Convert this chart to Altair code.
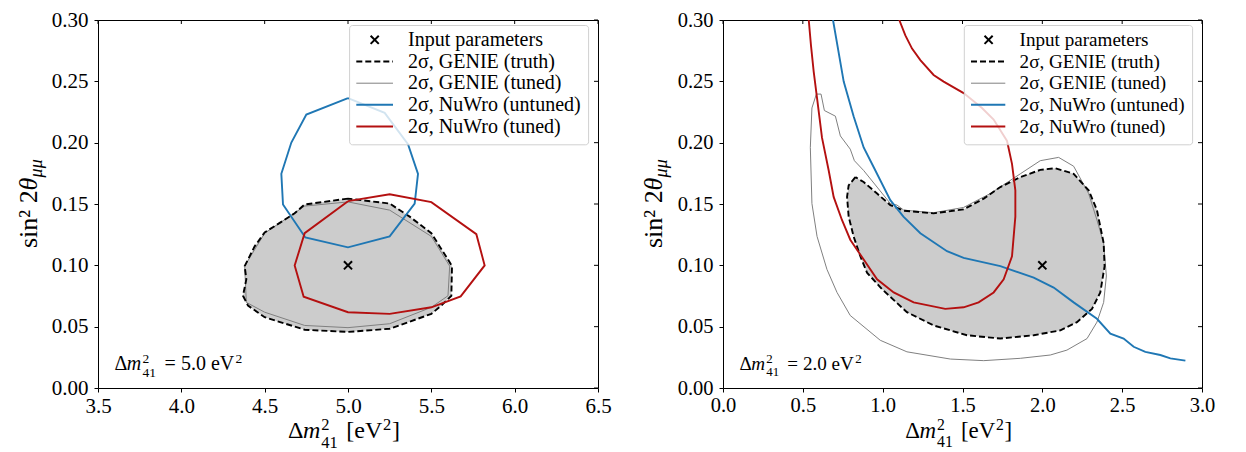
import altair as alt
import pandas as pd

# ---------------- data: left panel (input dm2 = 5.0 eV^2) ----------------
L_truth_x = [5.00, 4.74, 4.68, 4.50, 4.44, 4.38, 4.39, 4.37, 4.40, 4.50, 4.74, 5.00,
             5.25, 5.50, 5.56, 5.62, 5.624, 5.60, 5.50, 5.37, 5.25]
L_truth_y = [0.1544, 0.1496, 0.1424, 0.1268, 0.1155, 0.0994, 0.0886, 0.0752, 0.0672, 0.0577, 0.0475, 0.0457,
             0.0483, 0.0604, 0.0672, 0.0752, 0.0994, 0.1047, 0.1262, 0.1397, 0.1504]
L_tuned_x = [5.00, 4.74, 4.50, 4.38, 4.39, 4.50, 4.74, 5.00, 5.25, 5.50, 5.60, 5.61, 5.50, 5.25]
L_tuned_y = [0.1517, 0.1483, 0.1262, 0.0994, 0.0698, 0.0618, 0.0510, 0.0492, 0.0524, 0.0658, 0.0752,
             0.0994, 0.1236, 0.1450]
L_nu_unt_x = [5.00, 5.22, 5.36, 5.42, 5.40, 5.25, 5.00, 4.744, 4.61, 4.60, 4.66, 4.75]
L_nu_unt_y = [0.2364, 0.2243, 0.1988, 0.1746, 0.1504, 0.1236, 0.1147, 0.1227, 0.1496, 0.1746, 0.2001, 0.2229]
L_nu_tun_x = [5.00, 5.25, 5.50, 5.77, 5.82, 5.676, 5.50, 5.25, 5.00, 4.734, 4.68, 4.74]
L_nu_tun_y = [0.1523, 0.1579, 0.1515, 0.1254, 0.0999, 0.0747, 0.0658, 0.0604, 0.0618, 0.0744, 0.0999, 0.1262]
L_input = (5.0, 0.10)

# ---------------- data: right panel (input dm2 = 2.0 eV^2) ----------------
R_truth_x = [0.829, 0.787, 0.777, 0.787, 0.818, 0.860, 0.902, 0.996, 1.152, 1.319, 1.528, 1.737, 1.946,
             2.113, 2.217, 2.311, 2.363, 2.390, 2.384, 2.342, 2.290, 2.196, 2.081, 1.987, 1.862, 1.737,
             1.633, 1.507, 1.319, 1.132, 1.048, 0.965, 0.881]
R_truth_y = [0.1719, 0.1652, 0.1558, 0.1397, 0.1236, 0.1074, 0.0940, 0.0806, 0.0618, 0.0510, 0.0430, 0.0403,
             0.0430, 0.0470, 0.0537, 0.0645, 0.0779, 0.0994, 0.1182, 0.1450, 0.1612, 0.1746, 0.1792, 0.1778,
             0.1719, 0.1638, 0.1544, 0.1456, 0.1424, 0.1445, 0.1491, 0.1585, 0.1679]
R_tuned_x = [0.585, 0.614, 0.635, 0.704, 0.735, 0.797, 0.823, 0.881, 0.965, 1.048, 1.090, 1.132, 1.319,
             1.507, 1.674, 1.862, 1.987, 2.102, 2.196, 2.290, 2.342, 2.384, 2.401, 2.384, 2.342, 2.280,
             2.154, 2.050, 1.862, 1.633, 1.424, 1.152, 0.985, 0.797, 0.714, 0.651, 0.589, 0.557, 0.547, 0.557]
R_tuned_y = [0.2396, 0.2396, 0.2262, 0.2216, 0.2055, 0.1947, 0.1853, 0.1773, 0.1638, 0.1504, 0.1491, 0.1450,
             0.1429, 0.1472, 0.1585, 0.1746, 0.1853, 0.1880, 0.1808, 0.1585, 0.1370, 0.1182, 0.0913, 0.0698,
             0.0537, 0.0403, 0.0309, 0.0269, 0.0242, 0.0223, 0.0236, 0.0295, 0.0389, 0.0591, 0.0779, 0.0967,
             0.1236, 0.1504, 0.1961, 0.2283]
R_nu_unt_x = [0.689, 0.756, 0.818, 0.881, 0.944, 1.048, 1.130, 1.236, 1.403, 1.507, 1.737, 1.946, 2.071,
              2.196, 2.342, 2.426, 2.509, 2.572, 2.645, 2.739, 2.802, 2.896]
R_nu_unt_y = [0.300, 0.2498, 0.2216, 0.1961, 0.1800, 0.1531, 0.1397, 0.1262, 0.1115, 0.1061, 0.0994, 0.0900,
              0.0819, 0.0698, 0.0564, 0.0443, 0.0403, 0.0336, 0.0295, 0.0269, 0.0242, 0.0223]
R_nu_tun_x = [0.537, 0.551, 0.568, 0.589, 0.620, 0.662, 0.693, 0.745, 0.797, 0.881, 0.965, 1.069, 1.194,
              1.392, 1.507, 1.601, 1.695, 1.758, 1.810, 1.831, 1.831, 1.810, 1.779, 1.695, 1.622, 1.507,
              1.382, 1.319, 1.236, 1.184, 1.142, 1.104]
R_nu_tun_y = [0.300, 0.2793, 0.2579, 0.2364, 0.2041, 0.1773, 0.1558, 0.1370, 0.1209, 0.1047, 0.0886, 0.0779,
              0.0698, 0.0645, 0.0658, 0.0698, 0.0779, 0.0886, 0.1074, 0.1397, 0.1612, 0.1827, 0.2014, 0.2189,
              0.2283, 0.2404, 0.2498, 0.2552, 0.2673, 0.2767, 0.2874, 0.300]
R_input = (2.0, 0.10)

# ---------------- ticks / labels ----------------
L_xticks = [3.5, 4.0, 4.5, 5.0, 5.5, 6.0, 6.5]
R_xticks = [0.0, 0.5, 1.0, 1.5, 2.0, 2.5, 3.0]
Y_ticks = [0.00, 0.05, 0.10, 0.15, 0.20, 0.25, 0.30]
LEG_LABELS = ["Input parameters", "2σ, GENIE (truth)", "2σ, GENIE (tuned)",
              "2σ, NuWro (untuned)", "2σ, NuWro (tuned)"]
L_NOTE_VALUE = "= 5.0 eV"
R_NOTE_VALUE = "= 2.0 eV"

BLUE = "#1f77b4"
RED = "#b41010"
GRAY = "#808080"
FILL = "#cccccc"
FONT = "Liberation Serif"
XPATH = "M-1,-1L1,1M-1,1L1,-1"
H = 368
TOP = 18.5  # image y of plot top (used to convert reference positions)


def path_df(xs, ys, close=True):
    xs = list(xs)
    ys = list(ys)
    if close:
        xs = xs + xs[:1]
        ys = ys + ys[:1]
    return pd.DataFrame({"x": xs, "y": ys, "i": list(range(len(xs)))})


ONE = pd.DataFrame({"a": [0]})


def txt(s, x, y, size, italic=False, angle=None, align="left", baseline="alphabetic"):
    kw = dict(align=align, baseline=baseline, fontSize=size, font=FONT, color="black")
    if italic:
        kw["fontStyle"] = "italic"
    if angle is not None:
        kw["angle"] = angle
    return alt.Chart(ONE).mark_text(**kw).encode(x=alt.value(x), y=alt.value(y), text=alt.value(s))


def panel(W, xdom, xticks, truth, tuned, unt, tun, unt_closed, tun_closed, inp, note_value,
          box, sym, cross_x, text_x, s, tick_fs):
    xsc = alt.Scale(domain=xdom, nice=False, zero=False)
    ysc = alt.Scale(domain=[0, 0.30], nice=False, zero=False)
    X = alt.X("x:Q", scale=xsc, axis=alt.Axis(values=xticks, format=".1f", title=None,
                                              labelFontSize=tick_fs, labelFlush=False))
    Y = alt.Y("y:Q", scale=ysc, axis=alt.Axis(values=Y_ticks, format=".2f", title=None,
                                              labelFontSize=tick_fs, labelFlush=False))
    O = alt.Order("i:Q")

    def line(df, **kw):
        return alt.Chart(df).mark_line(clip=True, **kw).encode(x=X, y=Y, order=O)

    layers = [
        line(path_df(*truth), fill=FILL, strokeOpacity=0, strokeWidth=0),
        line(path_df(*tuned), color=GRAY, strokeWidth=1),
        line(path_df(*truth), color="black", strokeWidth=1.9, strokeDash=[6, 3]),
        line(path_df(*unt, close=unt_closed), color=BLUE, strokeWidth=1.9),
        line(path_df(*tun, close=tun_closed), color=RED, strokeWidth=1.9),
        alt.Chart(pd.DataFrame({"x": [inp[0]], "y": [inp[1]]})).mark_point(
            shape=XPATH, size=66, stroke="black", strokeWidth=2, filled=False, opacity=1
        ).encode(x=X, y=Y),
        # inward ticks on top and right spines
        alt.Chart(pd.DataFrame({"x": xticks})).mark_rule(color="black", strokeWidth=1).encode(
            x=X, y=alt.value(0), y2=alt.value(4)),
        alt.Chart(pd.DataFrame({"y": Y_ticks})).mark_rule(color="black", strokeWidth=1).encode(
            y=Y, x=alt.value(W), x2=alt.value(W - 4)),
    ]

    # annotation  Δm^2_41 = v eV^2
    ax0, ab = 16.6, 368.3 - TOP
    layers += [
        txt("Δ", ax0, ab, 20 * s),
        txt("m", ax0 + 12.2 * s, ab, 20 * s, italic=True),
        txt("2", ax0 + 28.0 * s, ab - 7 * s, 13.5 * s),
        txt("41", ax0 + 28.0 * s, ab + 7 * s, 13.5 * s),
        txt(note_value, ax0 + 50 * s, ab, 20 * s),
        txt("2", ax0 + 121 * s, ab - 7 * s, 13.5 * s),
    ]

    # x axis title  Δm^2_41 [eV^2]
    cx, xb = W / 2, H + 50
    layers += [
        txt("Δ", cx - 60 * s, xb, 24 * s),
        txt("m", cx - 45 * s, xb, 24 * s, italic=True),
        txt("2", cx - 26.7 * s, xb - 8 * s, 16.5 * s),
        txt("41", cx - 26.7 * s, xb + 9.5 * s, 16.5 * s),
        txt("[eV", cx - 1.7 * s, xb, 24 * s),
        txt("2", cx + 35 * s, xb - 8 * s, 16.5 * s),
        txt("]", cx + 44 * s, xb, 24 * s),
    ]

    # y axis title  sin^2 2θ_μμ  (rotated)
    cy = H / 2
    ybx = -61
    start = cy + 44
    layers += [
        txt("sin² 2", ybx, start, 26, angle=270),
        txt("θ", ybx, start - 57.6, 26, italic=True, angle=270),
        txt("μμ", ybx + 5, start - 70.6, 18, italic=True, angle=270),
    ]

    # legend
    layers.append(alt.Chart(ONE).mark_rect(fill="white", fillOpacity=0.8, stroke="#d0d0d0",
                                           strokeWidth=1, cornerRadius=3).encode(
        x=alt.value(box[0]), x2=alt.value(box[1]), y=alt.value(24 - TOP), y2=alt.value(143.3 - TOP)))
    rows = [r - TOP for r in [38.3, 60, 81.7, 103.3, 125]]
    layers.append(alt.Chart(ONE).mark_point(shape=XPATH, size=66, stroke="black", strokeWidth=2,
                                            filled=False, opacity=1).encode(
        x=alt.value(cross_x), y=alt.value(rows[0])))
    styles = [dict(color="black", strokeWidth=1.9, strokeDash=[6, 3]),
              dict(color=GRAY, strokeWidth=1),
              dict(color=BLUE, strokeWidth=1.9),
              dict(color=RED, strokeWidth=1.9)]
    for r, st in zip(rows[1:], styles):
        layers.append(alt.Chart(ONE).mark_rule(**st).encode(
            x=alt.value(sym[0]), x2=alt.value(sym[1]), y=alt.value(r)))
    for r, lab in zip(rows, LEG_LABELS):
        layers.append(txt(lab, text_x, r, 20 * s, baseline="middle"))
    return alt.layer(*layers).properties(width=W, height=H)


left = panel(500, [3.5, 6.5], L_xticks,
             (L_truth_x, L_truth_y), (L_tuned_x, L_tuned_y),
             (L_nu_unt_x, L_nu_unt_y), (L_nu_tun_x, L_nu_tun_y), True, True,
             L_input, L_NOTE_VALUE,
             (251.6, 490.6), (258.3, 295), 276.7, 310, 1.0, 21)
right = panel(479, [0.0, 3.0], R_xticks,
              (R_truth_x, R_truth_y), (R_tuned_x, R_tuned_y),
              (R_nu_unt_x, R_nu_unt_y), (R_nu_tun_x, R_nu_tun_y), False, False,
              R_input, R_NOTE_VALUE,
              (241.3, 469.6), (248, 282.3), 265.6, 296.6, 0.955, 20.5)

chart = alt.hconcat(left, right, spacing=28).properties(
    padding={"left": 7, "top": 0, "right": 2, "bottom": 0}
).configure_view(stroke="black", strokeWidth=1).configure_axis(
    domain=False, ticks=True, tickColor="black", tickSize=4, tickWidth=1,
    labelFont=FONT, labelColor="black", labelPadding=3, grid=False
).configure_axisY(labelPadding=6)

chart.save("out.html", embed_options={"renderer": "svg", "actions": False})
